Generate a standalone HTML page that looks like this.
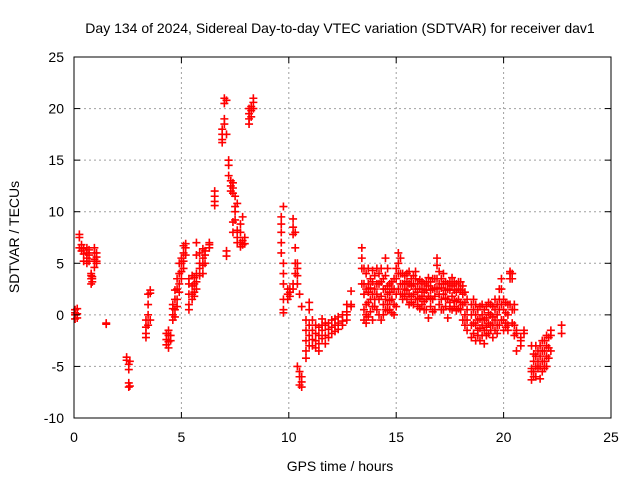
<!DOCTYPE html>
<html><head><meta charset="utf-8">
<style>
html,body{margin:0;padding:0;background:#fff;}
svg{display:block;font-family:"Liberation Sans",sans-serif;}
</style></head>
<body>
<svg id="chart" width="640" height="480">
<text x="340" y="33" text-anchor="middle" font-size="14" fill="#000">Day 134 of 2024, Sidereal Day-to-day VTEC variation (SDTVAR) for receiver dav1</text>
<g id="grid"></g>
<g id="marks"></g>
<rect x="74" y="57" width="537" height="361" fill="none" stroke="#000" stroke-width="1"/>
<g id="ticks"></g>
<text x="340" y="471" text-anchor="middle" font-size="14">GPS time / hours</text>
<text transform="translate(19,237) rotate(-90)" text-anchor="middle" font-size="14">SDTVAR / TECUs</text>
</svg>
<script>
const xTicks = [0,5,10,15,20,25];
const yTicks = [-10,-5,0,5,10,15,20,25];
const obsTimes = [0.05,0.15,0.25,0.35,0.45,0.6,0.7,0.8,0.85,0.95,1.05,1.5,
2.45,2.55,2.6,3.35,3.45,3.55,4.3,4.4,4.5,
4.6,4.7,4.8,4.9,5.0,5.1,5.2,5.35,5.5,5.6,5.7,5.85,6.0,6.1,6.3,6.55,
6.9,7.0,7.1,7.2,7.3,7.4,7.5,7.6,7.75,7.85,7.95,8.15,8.25,8.35,
9.65,9.75,9.95,10.05,10.2,10.3,10.4,10.5,10.6,10.8,10.95,11.1,11.25,11.4,11.55,11.7,11.85,12.0,12.15,12.3,12.5,12.7,12.9,
13.4,13.5,13.6,13.7,13.8,13.9,14.0,14.1,14.2,14.3,14.4,14.5,14.6,14.7,14.8,14.9,15.0,15.1,15.2,15.3,15.4,15.5,15.6,15.7,15.8,15.9,16.0,16.1,16.2,16.3,16.4,16.5,16.6,16.7,16.8,16.9,17.0,17.1,17.2,17.3,17.4,17.5,17.6,17.7,17.8,17.9,18.0,18.1,18.2,18.3,
18.5,18.6,18.7,18.8,18.9,19.0,19.1,19.2,19.3,19.4,19.5,19.6,19.7,19.8,19.9,20.0,20.1,20.2,20.3,20.4,20.5,20.6,20.8,20.95,
21.3,21.4,21.5,21.6,21.7,21.8,21.9,22.0,22.1,22.2,22.7];
const obsValues = [
[0.5,0,-0.4,0.2],[0.6,0.1,-0.3],[7.8,7.5,6.5],[6.8,6.2],[6.4,5.9,5.2],[6.5,6,5.5,5],[6.3,5.8,5.2],[4,3.5,3,3.8],[3.5,3.2,3.7],[6.5,6,5.4,4.6],[6,5.6,5,5.2],[-0.8,-0.9],
[-4.1,-4.4],[-4.8,-5.3,-6.6,-7],[-4.5,-6.9],[-0.5,-1.2,-1.8,-2.2],[0,-1,1,2],[2.4,2.1,-0.5],[-1.8,-2.4,-2.9],[-2,-2.6,-3.2,-1.5],[-2,-2.5],
[-0.5,0,0.6,1],[0.5,1.5,2.4,-0.2],[1.5,2.5,3.5,0.8],[3,4,5,2.2],[4.2,5,5.5,3.5],[5.2,6,6.7,4.5],[6.5,6.9,5.8],[1,2,3,3.5,0.5],[2,2.8,3.8,1.5],[1.8,3,3.6,2.2],[2.5,3.2,4,5.8,7],[3.8,4.5,5,6],[4,4.8,5.5,6.4],[5,5.8,6.2],[7,6.8,6.5],[12,11.5,11,10.6],
[18,17,17.5,16.7],[21,20.5,19,18.5],[20.8,17.5,5.7,6.2],[15,14.5,13.5],[13,12.5,12],[12.8,12.3,11.8,8,9],[11.5,10.5,10,9.2],[10.8,8.2,7.5,7],[8.8,8,7,6.6],[9.5,7.2,6.8],[7.5,6.9],[19.5,20,19,18.5],[20.2,19.8,19.2],[21,20.6,20],
[9.5,8.8,8,7,6],[10.5,5,4,3,1.5,0.5,0.2],[2.5,2,1.5],[1.8,2.5,2.2],[8.5,9.3,7.8,3,2.5],[8,6.5,5,4],[5,4.5,3.8,3,-5],[-5.5,-6,-6.8,2],[-6,-7,-6.5,0.8],[-0.5,-1.5,-2.5,-3.5,-4.2],[-1,-2,-3,1.2,0.5],[-1.5,-2.4,-3,-0.5],[-1.8,-2.5,-3.2,-1],[-1.2,-2,-2.8,-3.5],[-1.5,-2.3,-1,-0.4],[-1,-2,-2.8,-0.8],[-0.8,-1.4,-2.2],[-0.5,-1.2,-1.8],[-0.4,-1,-1.6],[-0.2,-0.8,-1.4],[0,-0.6,-1],[0.3,0,-0.5,1],[1,0.8,2.3],
[6.5,5.5,4.5,3],[3,2,0.5,-0.5,4.5],[4,2.5,1,0,-0.8],[3,2.2,1.2,-0.2,4.5],[2.6,1.5,0.3,3.5],[3.2,2,0.8,4.3,-0.5],[2.5,1.5,0.8,3.8],[3,2,0.5,4.5],[4,3,1.5,0],[4.5,3.2,1.8,-0.5],[3.5,2.5,1,0],[2.5,1.5,0.5,3.8,5.5],[2.8,2,1,0.4,4.5],[3,2.2,1.4,0.5],[3.2,2.5,1.5,0.2],[3.5,2.5,1,0],[4.5,3.5,2,0.8],[6,5,4,2.5],[5.5,4,3,2],[2,3,1.5,4],[3,2.5,1.8,3.8],[3.2,2.4,1.5,4],[4.2,3,2,1],[3.5,2.8,1.8,1.2],[3.8,3,2,1],[3.5,2.5,1.5,4.2],[3,2.2,1.5,0.8],[3.4,2.5,1.6,0.6],[3.2,2.5,1.8,1],[3,2.2,1.3,0.5],[3.2,2.4,1.5,0.5],[3.6,2.8,1.8,-0.3],[3.2,2.4,1.6,0.8],[3.5,2.5,1.5,0.3],[3.5,2.6,1.8,0.5],[5.5,4.8,3.5,2.5],[4.2,3,2,1],[3.5,2.6,1.5,0.5],[4,3,2,0.5],[3.2,2.4,1.6,0.8],[3,2.5,1.5,-0.3],[3.2,2.4,1.2,0.6],[3.6,2.8,1.8,0.5],[3.2,2.4,1.4,0.8],[3,2.2,1.3,0.4],[3.2,2.5,1.5,0.6],[3.2,2.4,1.2,0.5],[2.8,2,1,-0.5],[2.2,1.2,0,-1],[1.5,0.5,-0.5,-1.5],
[1,0,-1,-2.2],[1.5,0.5,-0.8,-1.8],[1,0,-1,-2.5],[0.5,-0.5,-1.5,-2],[0.8,-0.4,-1.3,-2.5],[1,0,-1,-2],[0.5,-0.5,-1.5,-2.8],[0.8,-0.3,-1.2,-2],[1.2,0.2,-0.8,-1.8],[1,0,-1,-1.5],[0.8,-0.2,-1,-2.2],[1.5,0.5,-0.5,-1.5],[1,0,-1,-1.8],[2.5,1.5,0.5,-1],[3.5,2.5,1,-0.5],[1.5,0.5,-0.5,-1.5],[1.2,0.2,-0.8,-1.2],[1,0,-1,-1.5],[4.2,4,3.5,1],[4,3.5,0.5,-0.8],[1,0.5,-1,-2],[-1.5,-1.8,-3.5],[-2.5,-3,-2.2],[-1.5,-1.8],
[-5.5,-6.3,-5.2,-3],[-3.8,-4.5,-5.5,-6],[-3,-4,-5,-6],[-3.5,-4.5,-5.2],[-3,-4,-5,-6.2],[-3.5,-4.5,-5.5,-2.5],[-2.5,-3.5,-4.5,-5.2],[-2,-3,-4,-5],[-2.2,-3.2,-4.2],[-1.5,-2,-3.5],[-1,-1.8]];

const X = t => 74 + t * (537/25);
const Y = v => 418 - (v + 10) * (361/35);
const NS = 'http://www.w3.org/2000/svg';
const grid = document.getElementById('grid');
const ticks = document.getElementById('ticks');
const marks = document.getElementById('marks');
function mk(tag, attrs, parent){const e=document.createElementNS(NS,tag);for(const k in attrs)e.setAttribute(k,attrs[k]);parent.appendChild(e);return e;}
xTicks.forEach(t=>{
  const x=X(t);
  if(t>0&&t<25){const g=mk('line',{x1:x,y1:57,x2:x,y2:418,stroke:'#a0a0a0','stroke-dasharray':'2,3'},grid);
  
  }
  mk('line',{x1:x,y1:418,x2:x,y2:412,stroke:'#000'},ticks);
  mk('line',{x1:x,y1:57,x2:x,y2:63,stroke:'#000'},ticks);
  const l=mk('text',{x:x,y:442,'text-anchor':'middle','font-size':14},ticks);
  l.textContent=t;
  
  
});
yTicks.forEach(v=>{
  const y=Y(v);
  if(v>-10&&v<25){const g=mk('line',{x1:74,y1:y,x2:611,y2:y,stroke:'#a0a0a0','stroke-dasharray':'2,3'},grid);
  
  }
  mk('line',{x1:74,y1:y,x2:80,y2:y,stroke:'#000'},ticks);
  mk('line',{x1:611,y1:y,x2:605,y2:y,stroke:'#000'},ticks);
  const l=mk('text',{x:64,y:y+5,'text-anchor':'end','font-size':14},ticks);
  l.textContent=v;
  
  
});
obsTimes.forEach((t,i)=>{
  (obsValues[i]||[]).forEach(v=>{
    const x=X(t), y=Y(v);
    const p=mk('path',{d:`M${x-4},${y}H${x+4}M${x},${y-4}V${y+4}`,stroke:'#ff0000','stroke-width':1.6,fill:'none'},marks);
    
    
  });
});
</script>
</body></html>
